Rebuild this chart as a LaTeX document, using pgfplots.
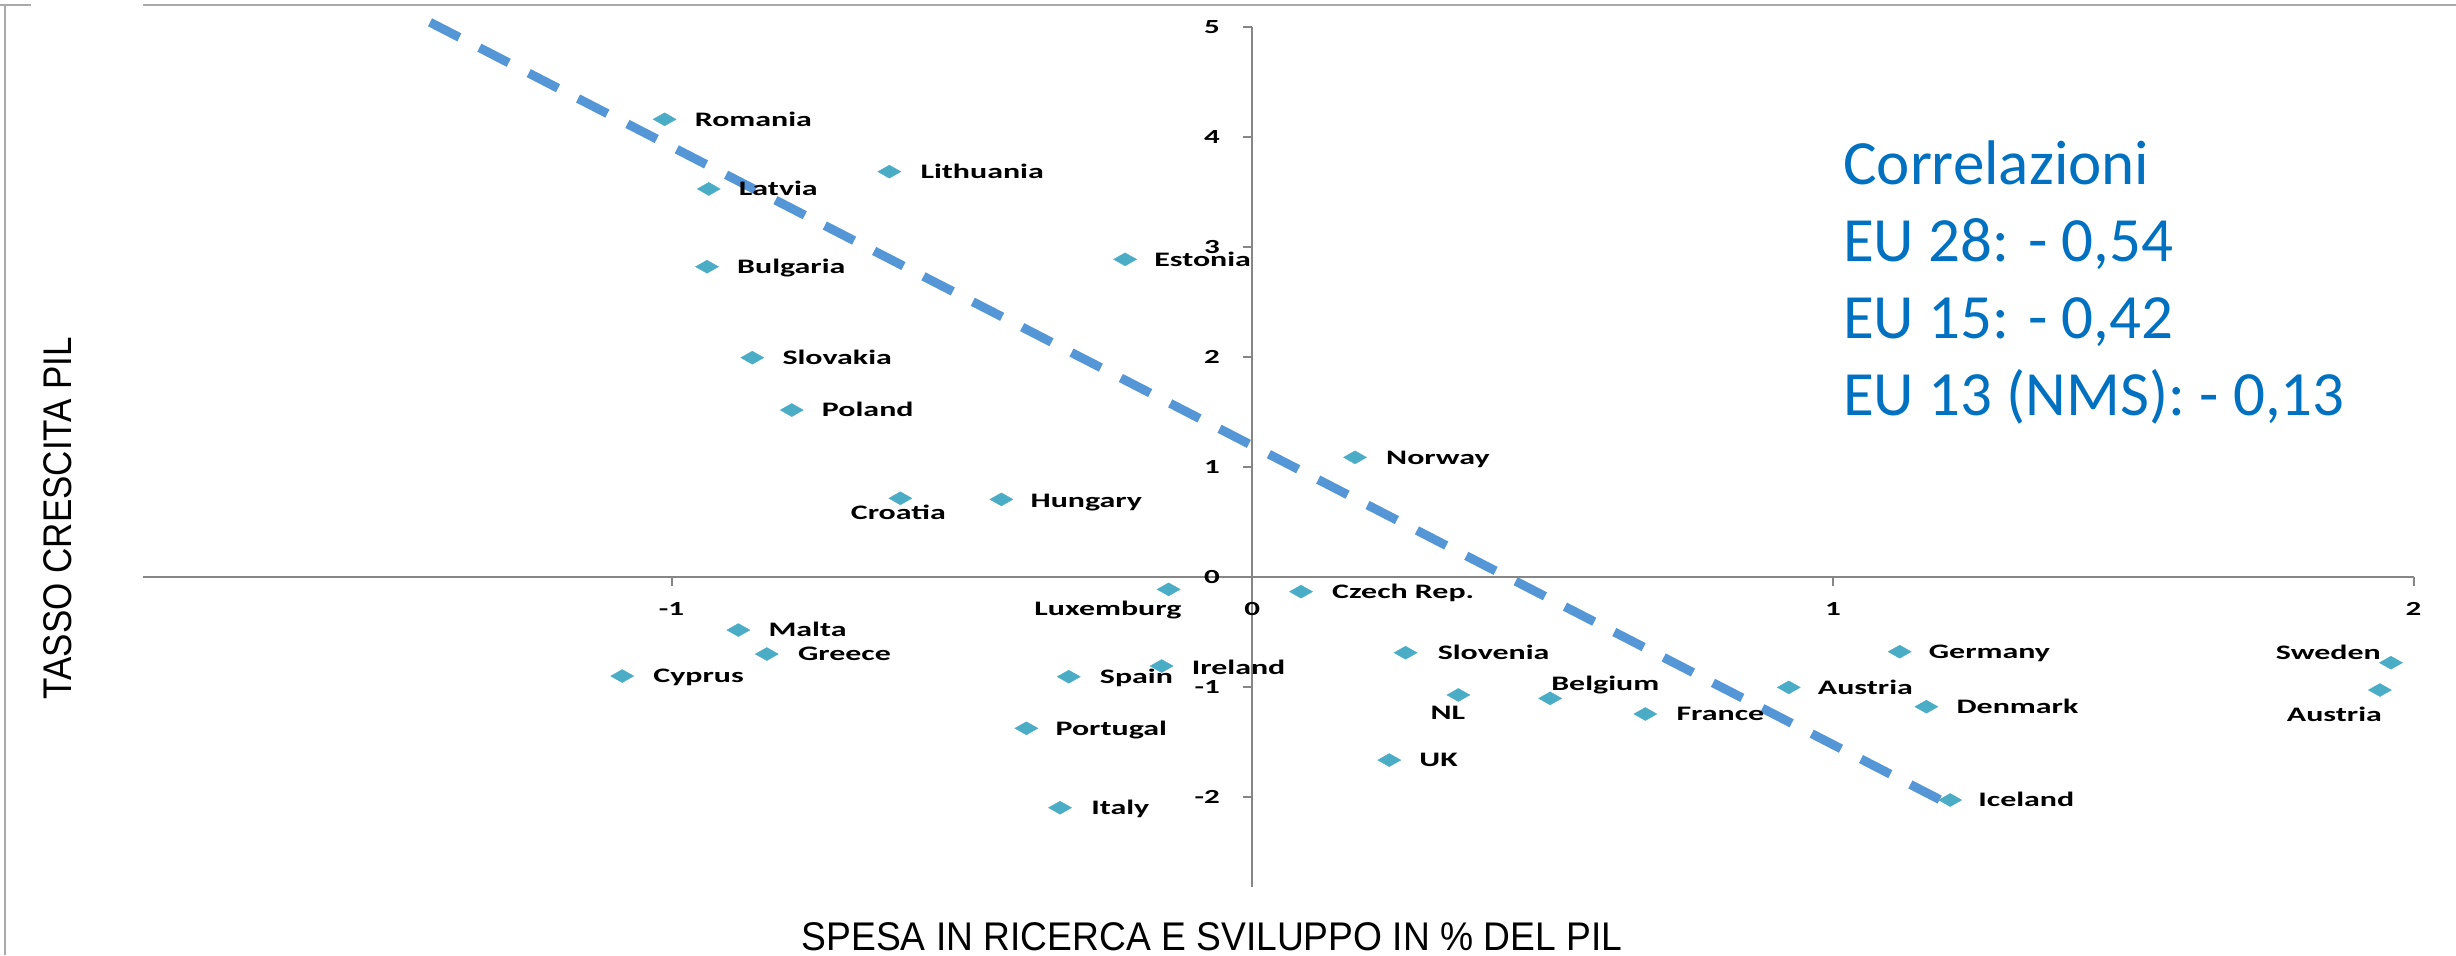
\documentclass[border=0pt]{standalone}
\usepackage{fontspec}
\setmainfont{Carlito}
\newfontfamily\lblfont[FakeStretch=1.55]{Carlito Bold}
\newfontfamily\xtitlefont[FakeStretch=0.93]{Liberation Sans}
\newfontfamily\ytitlefont[FakeStretch=0.875]{Liberation Sans}
\usepackage{pgfplots}
\pgfplotsset{compat=1.18}
\definecolor{axisgray}{RGB}{134,134,134}
\definecolor{bordergray}{RGB}{170,170,170}
\definecolor{mk}{RGB}{75,172,198}
\definecolor{trend}{RGB}{84,150,214}
\definecolor{corr}{RGB}{0,112,192}

\begin{document}
\begin{tikzpicture}
\useasboundingbox (0,0) rectangle (1228pt,477.5pt);
% frame lines
\draw[bordergray, line width=1pt] (2.5pt,0) -- (2.5pt,474.85pt);
\draw[bordergray, line width=1pt] (0,474.85pt) -- (15.5pt,474.85pt);
\draw[bordergray, line width=1pt] (71.5pt,474.85pt) -- (1228pt,474.85pt);
\begin{axis}[
  at={(71.3pt,34.15pt)}, anchor=south west,
  scale only axis, width=1135.45pt, height=430pt,
  xmin=-1.911, xmax=2, ymin=-2.818, ymax=5,
  axis lines=middle,
  axis line style={draw=axisgray, line width=1pt, -},
  xtick={-1,0,1,2}, xticklabels={-1,0,1,2},
  ytick={-2,-1,0,1,2,3,4,5}, yticklabels={-2,-1,0,1,2,3,4,5},
  hide obscured x ticks=false, hide obscured y ticks=false,
  tick align=outside, major tick length=4.5pt,
  tick style={draw=axisgray, line width=1pt},
  tick label style={font=\lblfont\fontsize{10}{12}\selectfont, text=black},
  xticklabel style={anchor=center, inner sep=0pt, yshift=-11.5pt},
  yticklabel style={anchor=east, inner sep=0pt, xshift=-11.5pt},
  clip=false,
]
\addplot[mk, only marks, mark=diamond*, mark size=3.25pt,
  mark options={xscale=2.36, fill=mk, draw=mk, line width=0.2pt},
  point meta=explicit symbolic,
  visualization depends on={value \thisrow{anc}\as\anc},
  visualization depends on={\thisrow{dx}\as\dx},
  visualization depends on={\thisrow{dy}\as\dy},
  nodes near coords,
  every node near coord/.append style={anchor=\anc, xshift=\dx pt, yshift=\dy pt,
     inner sep=0pt, font=\lblfont\fontsize{10.3}{12}\selectfont, text=black},
] table[col sep=comma, x=x, y=y, meta=label] {
x,y,label,anc,dx,dy
-1.012,4.158,Romania,base west,15,-3.35
-0.625,3.682,Lithuania,base west,15.5,-3.35
-0.936,3.525,Latvia,base west,15,-3.35
-0.219,2.885,Estonia,base west,14.5,-3.35
-0.939,2.818,Bulgaria,base west,15,-3.35
-0.861,1.991,Slovakia,base west,15,-3.35
-0.793,1.515,Poland,base west,15,-3.35
0.177,1.085,Norway,base west,15.5,-3.35
-0.606,0.713,Croatia,base,-1,-10.85
-0.432,0.703,Hungary,base west,14.5,-4
-0.144,-0.115,Luxemburg,base east,6.5,-13.3
0.084,-0.136,Czech Rep.,base west,15.5,-3.35
-0.885,-0.485,Malta,base west,15,-3.35
-0.836,-0.703,Greece,base west,15.5,-3.35
0.264,-0.691,Slovenia,base west,16,-3.35
1.115,-0.682,Germany,base west,14.5,-3.35
-1.085,-0.903,Cyprus,base west,15.5,-3.35
-0.156,-0.812,Ireland,base west,15,-4
-0.316,-0.909,Spain,base west,15.5,-3.5
1.961,-0.782,Sweden,base east,-5,1.7
0.924,-1.006,Austria,base west,14.5,-3.35
1.942,-1.030,Austria,base,-22.75,-15.85
0.355,-1.075,NL,base,-5.25,-12.5
0.513,-1.106,Belgium,base west,0.5,4.15
0.677,-1.248,France,base west,15.5,-3.35
1.161,-1.182,Denmark,base west,15,-3.35
-0.389,-1.378,Portugal,base west,14.5,-3.35
0.236,-1.667,UK,base west,15,-3.35
-0.331,-2.100,Italy,base west,15.5,-3.35
1.202,-2.030,Iceland,base west,14,-3.35
};
\addplot[no marks, trend, line width=4.5pt, dash pattern=on 16.5pt off 11.25pt]
  coordinates {(-1.416,5.04) (1.1965,-2.06)};
\end{axis}
% correlation text
\begin{scope}[every node/.style={anchor=base west, inner sep=0pt, text=corr, font=\fontsize{31.5}{38}\selectfont}]
\node at (921.4pt,385pt) {Correlazioni};
\node at (921.4pt,346.65pt) {EU 28: - 0,54};
\node at (921.4pt,308.35pt) {EU 15: - 0,42};
\node at (921.4pt,270pt) {EU 13 (NMS): - 0,13};
\end{scope}
% axis titles
\node[anchor=base, inner sep=0pt, font=\xtitlefont\fontsize{20}{24}\selectfont] at (606pt,2.5pt) {SPESA IN RICERCA E SVILUPPO IN \% DEL PIL};
\node[anchor=center, inner sep=0pt, rotate=90, font=\ytitlefont\fontsize{20}{24}\selectfont] at (28.75pt,218.5pt) {TASSO CRESCITA PIL};
\end{tikzpicture}
\end{document}
